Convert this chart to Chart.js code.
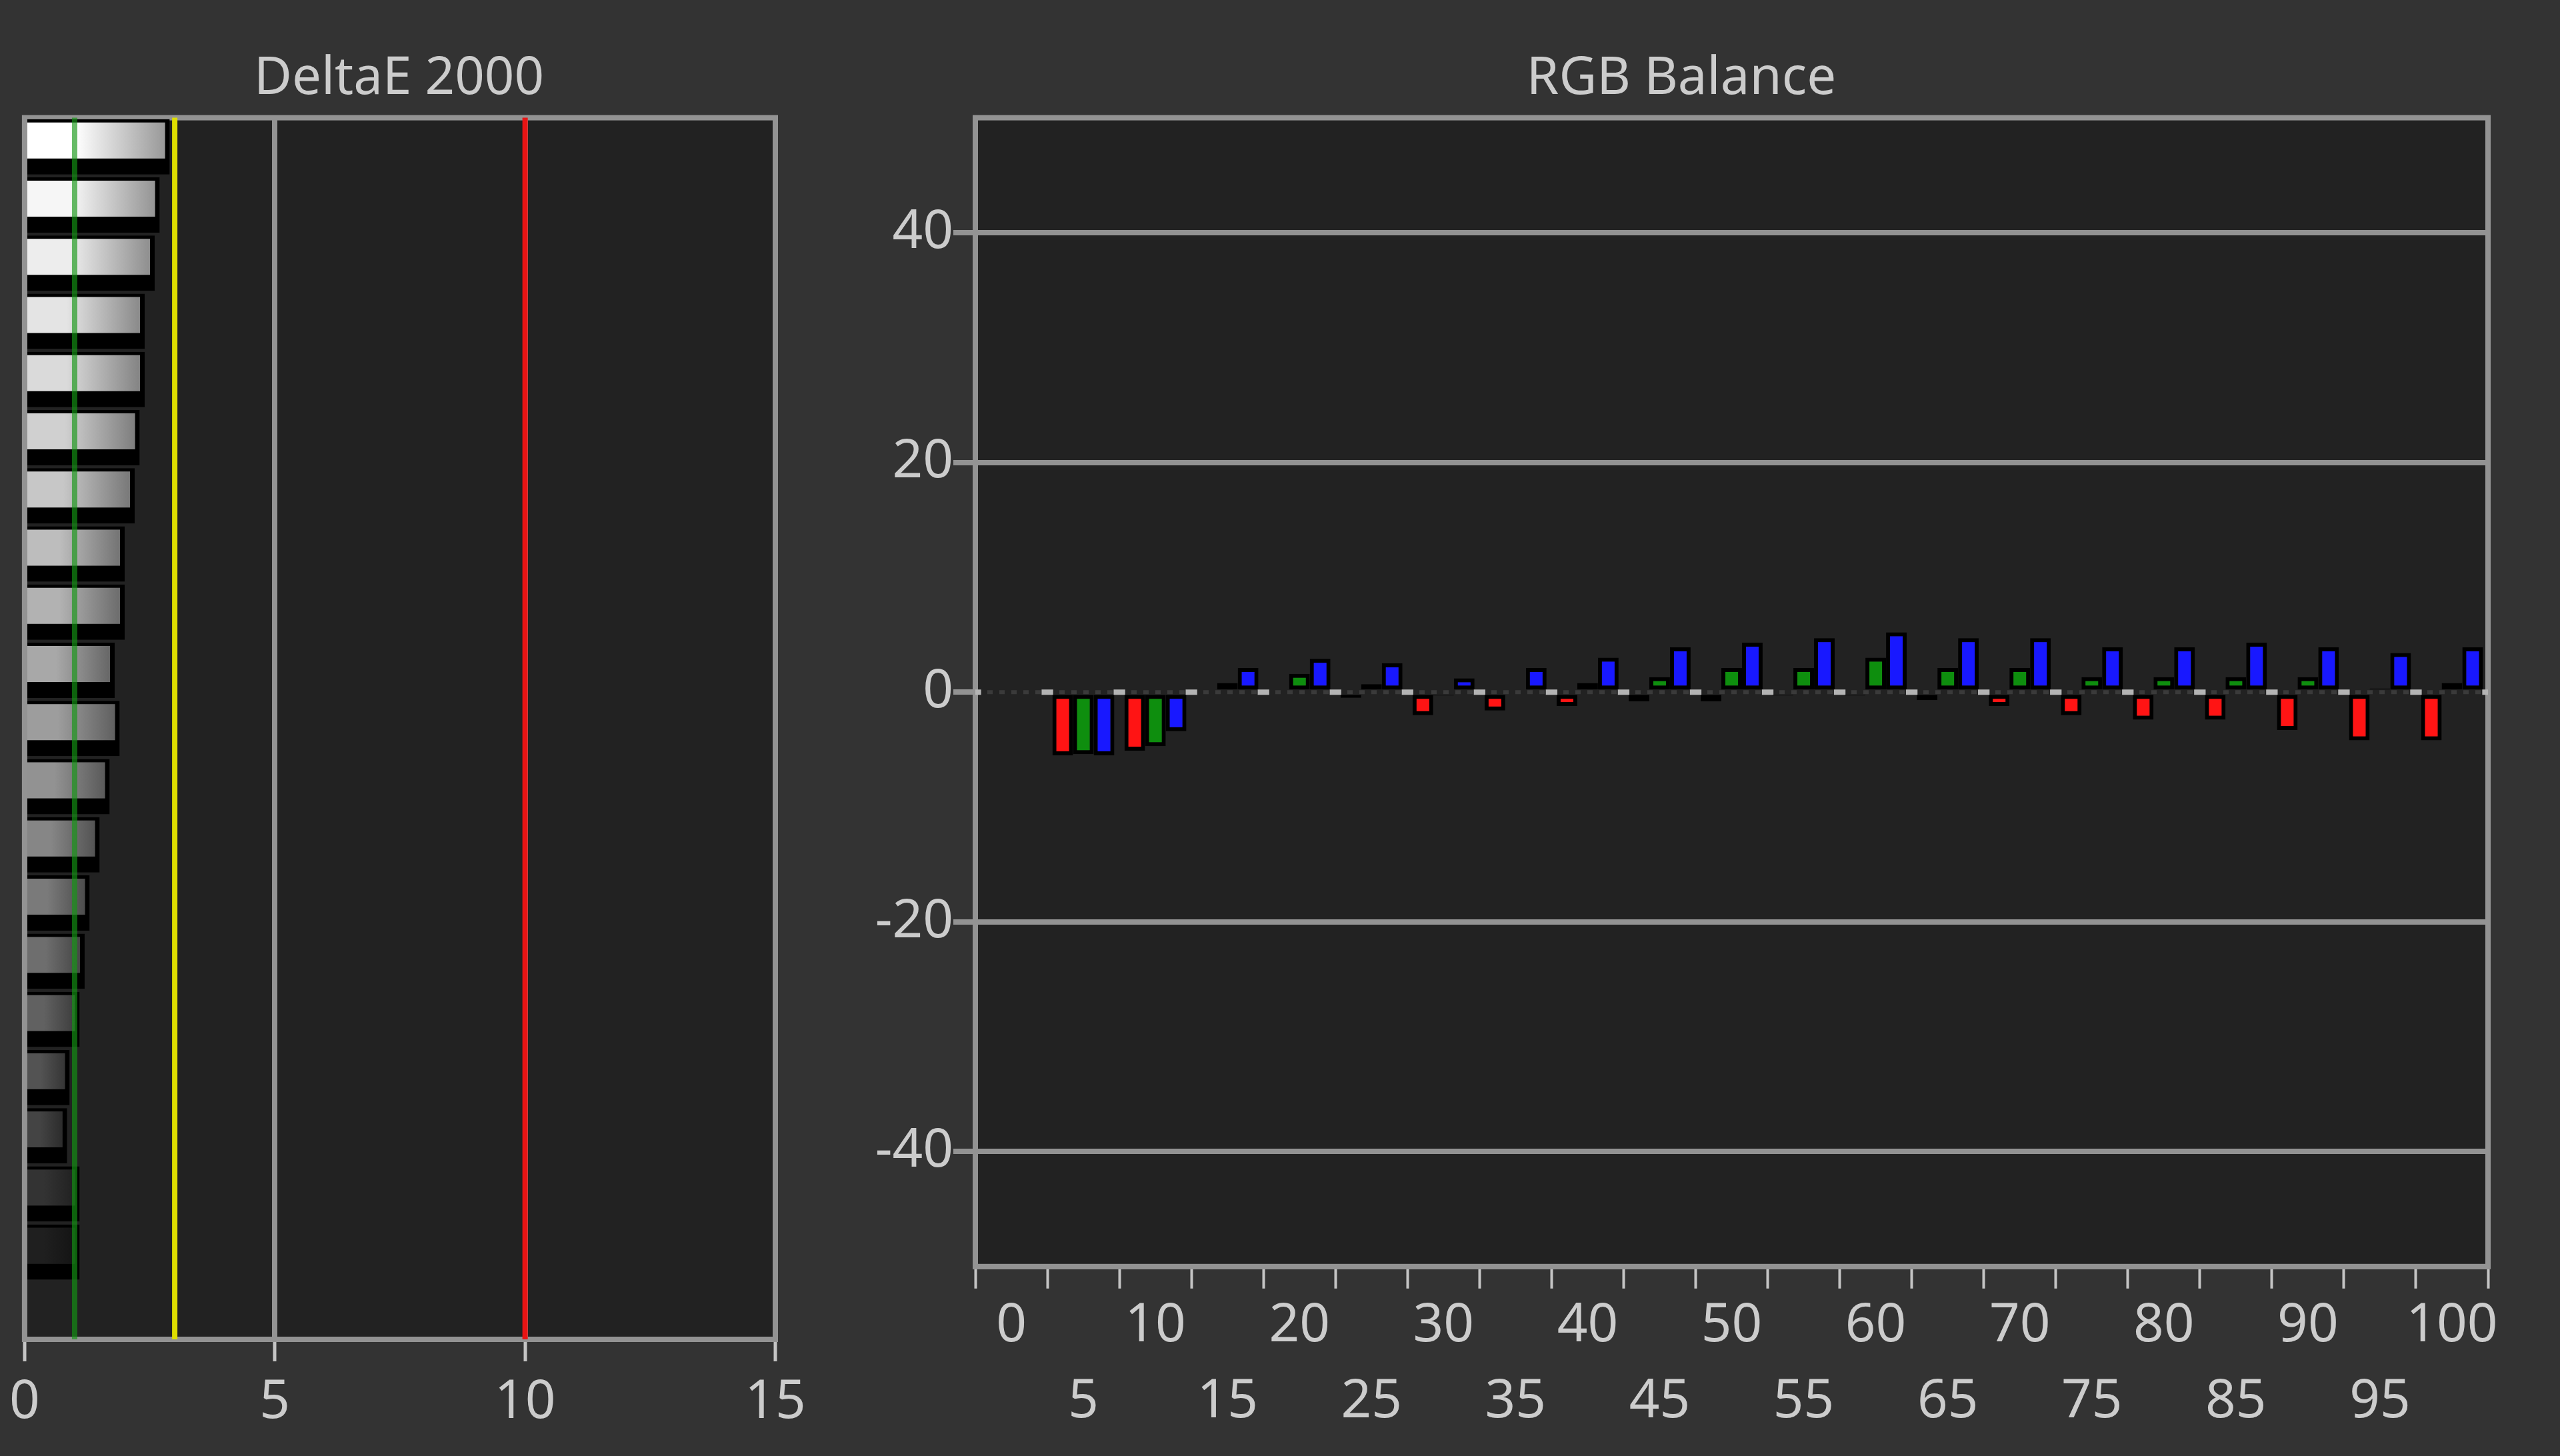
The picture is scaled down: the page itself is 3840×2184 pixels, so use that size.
<!DOCTYPE html>
<html>
<head>
<meta charset="utf-8">
<title>DeltaE 2000 / RGB Balance</title>
<script src="https://cdn.jsdelivr.net/npm/chart.js@4.4.1/dist/chart.umd.min.js"></script>
<style>
    html, body { margin: 0; padding: 0; background: #333333; }
    body { width: 3840px; height: 2184px; position: relative; overflow: hidden; }
    #leftBox { position: absolute; left: 0; top: 0; width: 1300px; height: 2184px; }
    #rightBox { position: absolute; left: 1300px; top: 0; width: 2540px; height: 2184px; }
</style>
</head>
<body>
<div id="leftBox"><canvas id="deltaChart"></canvas></div>
<div id="rightBox"><canvas id="rgbChart"></canvas></div>
<script>
// DeltaE 2000 panel: grey levels from top to bottom
const greyLevels = [100, 95, 90, 85, 80, 75, 70, 65, 60, 55, 50, 45, 40, 35, 30, 25, 20, 15, 10, 5, 0];
const deltaE = [2.9, 2.7, 2.6, 2.4, 2.4, 2.3, 2.2, 2.0, 2.0, 1.8, 1.9, 1.7, 1.5, 1.3, 1.2, 1.1, 0.9, 0.85, 1.1, 1.1, null];
const deltaTicks = [0, 5, 10, 15];
const deltaLimits = [1, 3, 10];

// RGB Balance panel
const rgbCategories = [0, 5, 10, 15, 20, 25, 30, 35, 40, 45, 50, 55, 60, 65, 70, 75, 80, 85, 90, 95, 100];
const redBalance = [null, -5.5, -5.1, 0, 0, -0.5, -2.0, -1.6, -1.2, -0.8, -0.8, -0.3, -0.3, -0.7, -1.2, -2.0, -2.4, -2.4, -3.3, -4.2, -4.2];
const greenBalance = [null, -5.4, -4.7, 0.8, 1.6, 0.7, -0.3, 0, 0.8, 1.3, 2.1, 2.1, 3.0, 2.1, 2.1, 1.3, 1.3, 1.3, 1.3, 0.3, 0.8];
const blueBalance = [null, -5.5, -3.4, 2.1, 2.9, 2.5, 1.2, 2.1, 3.0, 3.9, 4.3, 4.7, 5.2, 4.7, 4.7, 3.9, 3.9, 4.3, 3.9, 3.4, 3.9];
const balanceTicks = [-40, -20, 0, 20, 40];

const FRAME = "#939393";
const TEXT = "#cccccc";
const LIMIT_COLORS = ["rgba(20, 150, 20, 0.65)", "#dede00", "#e81414"];

Chart.defaults.font.family = "'Noto Sans', sans-serif";
Chart.defaults.font.size = 80;
Chart.defaults.color = TEXT;
Chart.defaults.animation = false;

// plot background + frame around the chart area
const plotFrame = {
    id: "plotFrame",
    beforeDraw(chart) {
        const { ctx, chartArea: a } = chart;
        ctx.save();
        ctx.fillStyle = "#222222";
        ctx.fillRect(a.left, a.top, a.right - a.left, a.bottom - a.top);
        ctx.restore();
    },
    beforeDatasetsDraw(chart) {
        const { ctx, chartArea: a } = chart;
        ctx.save();
        ctx.strokeStyle = FRAME;
        ctx.lineWidth = 8;
        ctx.strokeRect(a.left, a.top, a.right - a.left, a.bottom - a.top);
        ctx.restore();
    }
};

// vertical limit lines of the DeltaE panel
const limitLines = {
    id: "limitLines",
    afterDatasetsDraw(chart) {
        const { ctx, chartArea: a } = chart;
        const x = chart.scales.x;
        ctx.save();
        ctx.lineWidth = 8;
        deltaLimits.forEach(function (v, i) {
            const px = x.getPixelForValue(v);
            ctx.strokeStyle = LIMIT_COLORS[i];
            ctx.beginPath();
            ctx.moveTo(px, a.top);
            ctx.lineTo(px, a.bottom);
            ctx.stroke();
        });
        ctx.restore();
    }
};

// dashed zero line of the RGB panel
const zeroLine = {
    id: "zeroLine",
    beforeDatasetsDraw(chart) {
        const { ctx, chartArea: a } = chart;
        const y0 = chart.scales.y.getPixelForValue(0);
        const slot = (a.right - a.left) / rgbCategories.length;
        ctx.save();
        ctx.strokeStyle = "#3a3a3a";
        ctx.lineWidth = 6;
        ctx.setLineDash([8, 10]);
        ctx.beginPath();
        ctx.moveTo(a.left, y0);
        ctx.lineTo(a.right, y0);
        ctx.stroke();
        ctx.strokeStyle = "#b4b4b4";
        ctx.lineWidth = 8;
        ctx.setLineDash([slot * 0.16, slot * 0.84]);
        ctx.lineDashOffset = slot * 0.08;
        ctx.beginPath();
        ctx.moveTo(a.left, y0);
        ctx.lineTo(a.right, y0);
        ctx.stroke();
        ctx.restore();
    }
};

function rgb(v) {
    return "rgb(" + v + "," + v + "," + v + ")";
}

function greyFill(context) {
    const chart = context.chart;
    const area = chart.chartArea;
    const xScale = chart.scales.x;
    if (context.dataIndex === undefined) return "#888888";
    const level = greyLevels[context.dataIndex];
    const base = Math.round(255 * Math.pow(level / 100, 0.7));
    const dark = Math.round(base * 0.58);
    if (!area || !xScale || context.raw == null) return rgb(base);
    const x0 = xScale.getPixelForValue(0);
    const x1 = xScale.getPixelForValue(context.raw);
    const g = chart.ctx.createLinearGradient(x0, 0, x1, 0);
    g.addColorStop(0, rgb(base));
    g.addColorStop(0.35, rgb(base));
    g.addColorStop(1, rgb(dark));
    return g;
}

new Chart(document.getElementById("deltaChart"), {
    type: "bar",
    data: {
        labels: greyLevels,
        datasets: [{
            data: deltaE,
            backgroundColor: greyFill,
            borderColor: "#000000",
            borderWidth: { top: 5, left: 0, right: 7, bottom: 24 },
            borderSkipped: false,
            barPercentage: 0.95,
            categoryPercentage: 1
        }]
    },
    options: {
        indexAxis: "y",
        responsive: true,
        maintainAspectRatio: false,
        layout: { padding: { left: 34, right: 137, top: 0, bottom: 18 } },
        plugins: {
            legend: { display: false },
            tooltip: { enabled: false },
            title: {
                display: true,
                text: "DeltaE 2000",
                color: TEXT,
                font: { size: 78, weight: "normal", lineHeight: 1.2 },
                padding: { top: 72, bottom: 11 }
            }
        },
        scales: {
            x: {
                type: "linear",
                min: 0,
                max: 15,
                afterBuildTicks: function (scale) {
                    scale.ticks = deltaTicks.map(function (v) { return { value: v }; });
                },
                grid: {
                    color: FRAME,
                    lineWidth: 8,
                    tickLength: 33,
                    tickColor: "#c4c4c4",
                    tickWidth: 5
                },
                border: { display: true, color: FRAME, width: 8 },
                ticks: {
                    color: TEXT,
                    padding: 14,
                    maxRotation: 0,
                    font: { size: 80, lineHeight: 1.2 }
                }
            },
            y: {
                display: false
            }
        }
    },
    plugins: [plotFrame, limitLines]
});

function rgbDataset(values, color) {
    return {
        data: values,
        backgroundColor: color,
        borderColor: "#000000",
        borderWidth: 6,
        borderSkipped: false,
        barPercentage: 1,
        categoryPercentage: 0.86
    };
}

new Chart(document.getElementById("rgbChart"), {
    type: "bar",
    data: {
        labels: rgbCategories,
        datasets: [
            rgbDataset(redBalance, "#ff1414"),
            rgbDataset(greenBalance, "#0e8e0e"),
            rgbDataset(blueBalance, "#1818ff")
        ]
    },
    options: {
        responsive: true,
        maintainAspectRatio: false,
        layout: { padding: { left: 12, right: 108, top: 0, bottom: 24 } },
        plugins: {
            legend: { display: false },
            tooltip: { enabled: false },
            title: {
                display: true,
                text: "RGB Balance",
                color: TEXT,
                font: { size: 78, weight: "normal", lineHeight: 1.2 },
                padding: { top: 72, bottom: 11 }
            }
        },
        scales: {
            x: {
                offset: true,
                grid: {
                    offset: true,
                    drawOnChartArea: false,
                    tickLength: 33,
                    tickColor: "#c4c4c4",
                    tickWidth: 4
                },
                border: { display: true, color: FRAME, width: 8 },
                ticks: {
                    autoSkip: false,
                    maxRotation: 0,
                    minRotation: 0,
                    padding: 0,
                    color: TEXT,
                    font: { size: 80, lineHeight: 1.42 },
                    callback: function (value, index) {
                        const label = String(this.getLabelForValue(value));
                        return index % 2 === 0 ? [label] : ["", label];
                    }
                }
            },
            y: {
                min: -50,
                max: 50,
                afterBuildTicks: function (scale) {
                    scale.ticks = balanceTicks.map(function (v) { return { value: v }; });
                },
                afterFit: function (scale) {
                    scale.width = 151;
                },
                grid: {
                    color: function (ctx) {
                        return ctx.tick && ctx.tick.value === 0 ? "rgba(0,0,0,0)" : FRAME;
                    },
                    lineWidth: 8,
                    tickLength: 33,
                    tickColor: FRAME,
                    tickWidth: 8
                },
                border: { display: true, color: FRAME, width: 8 },
                ticks: {
                    padding: 0,
                    color: TEXT,
                    font: { size: 80, lineHeight: 1.2 }
                }
            }
        }
    },
    plugins: [plotFrame, zeroLine]
});
</script>
</body>
</html>
